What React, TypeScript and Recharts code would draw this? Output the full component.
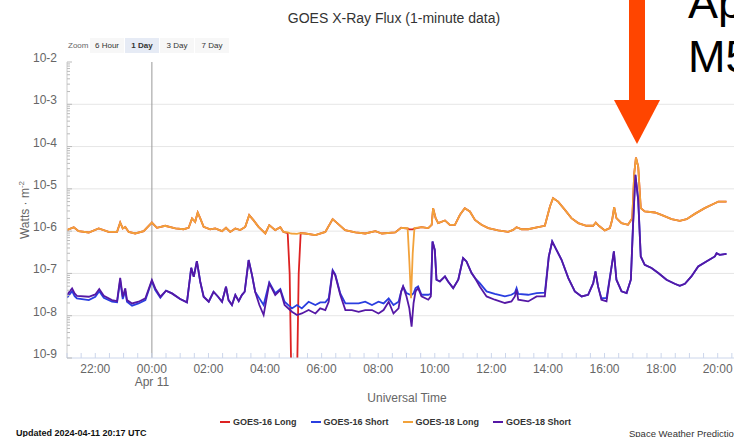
import { LineChart, Line, XAxis, YAxis, ReferenceLine } from "recharts";

// hours relative to 00:00 UTC Apr 11
const longHours = [
  -3.0, -2.76, -2.59, -2.23, -1.88, -1.53, -1.23, -1.12, -1.03, -0.94,
  -0.82, -0.59, -0.29, 0.0, 0.18, 0.47, 0.83, 1.12, 1.3, 1.42,
  1.53, 1.62, 1.71, 1.83, 2.06, 2.24, 2.48, 2.62, 2.77, 2.95,
  3.12, 3.3, 3.44, 3.59, 3.77, 4.01, 4.15, 4.36, 4.54, 4.65,
  4.8, 4.87, 4.93, 5.13, 5.19, 5.26, 5.42, 5.78, 6.13, 6.39,
  6.6, 6.83, 7.19, 7.54, 7.9, 8.13, 8.6, 8.81, 9.04, 9.1,
  9.16, 9.22, 9.28, 9.53, 9.77, 9.89, 9.94, 10.03, 10.12, 10.36,
  10.53, 10.71, 10.89, 11.06, 11.24, 11.42, 11.65, 11.89, 12.24, 12.59,
  12.77, 12.89, 13.07, 13.3, 13.65, 13.89, 14.07, 14.18, 14.36, 14.6,
  14.83, 15.07, 15.36, 15.6, 15.69, 15.8, 16.01, 16.19, 16.27, 16.34,
  16.42, 16.6, 16.83, 16.98, 17.05, 17.11, 17.19, 17.28, 17.42, 17.78,
  18.01, 18.37, 18.66, 18.9, 19.19, 19.54, 19.9, 20.02, 20.31,
];

const goes16Long = [
  1.06e-6, 1.24e-6, 1.0e-6, 9.3e-7, 1.16e-6, 9.6e-7, 9.6e-7, 1.6e-6, 1.16e-6, 1.26e-6,
  9.6e-7, 8.8e-7, 1.0e-6, 1.6e-6, 1.2e-6, 1.34e-6, 1.16e-6, 1.11e-6, 1.2e-6, 2.0e-6,
  1.66e-6, 2.76e-6, 2.0e-6, 1.26e-6, 1.1e-6, 1.16e-6, 1.0e-6, 1.2e-6, 9.6e-7, 1.16e-6,
  1.06e-6, 1.26e-6, 2.39e-6, 1.82e-6, 1.26e-6, 8.8e-7, 1.39e-6, 1.06e-6, 1.24e-6, 9.6e-7,
  9.0e-7, 1.0e-7, 3e-10, 3e-10, 1.0e-7, 9.0e-7, 8.8e-7, 8.05e-7, 9.6e-7, 1.92e-6,
  1.44e-6, 1.06e-6, 9.3e-7, 8.8e-7, 1.0e-6, 8.8e-7, 9.3e-7, 1.2e-6, 1.15e-6, 1.1e-6,
  1.1e-6, 1.1e-6, 1.15e-6, 1.24e-6, 1.18e-6, 1.41e-6, 3.5e-6, 2.03e-6, 1.55e-6, 1.79e-6,
  1.41e-6, 1.41e-6, 2.43e-6, 3.5e-6, 2.92e-6, 1.85e-6, 1.41e-6, 1.18e-6, 1.04e-6, 9.6e-7,
  1.07e-6, 1.24e-6, 1.11e-6, 1.11e-6, 1.24e-6, 1.34e-6, 3.83e-6, 6.0e-6, 5.0e-6, 3.19e-6,
  2.03e-6, 1.55e-6, 1.34e-6, 1.34e-6, 1.6e-6, 1.34e-6, 1.04e-6, 1.18e-6, 1.85e-6, 3.7e-6,
  2.03e-6, 1.55e-6, 1.41e-6, 2.03e-6, 2.34e-5, 5.5e-5, 3.37e-5, 3.5e-6, 2.92e-6, 2.76e-6,
  2.43e-6, 1.92e-6, 1.75e-6, 1.92e-6, 2.56e-6, 3.5e-6, 4.58e-6, 5.0e-6, 5.0e-6,
];

const goes18Long = [
  1.06e-6, 1.24e-6, 1.0e-6, 9.3e-7, 1.16e-6, 9.6e-7, 9.6e-7, 1.6e-6, 1.16e-6, 1.26e-6,
  9.6e-7, 8.8e-7, 1.0e-6, 1.6e-6, 1.2e-6, 1.34e-6, 1.16e-6, 1.11e-6, 1.2e-6, 2.0e-6,
  1.66e-6, 2.76e-6, 2.0e-6, 1.26e-6, 1.1e-6, 1.16e-6, 1.0e-6, 1.2e-6, 9.6e-7, 1.16e-6,
  1.06e-6, 1.26e-6, 2.39e-6, 1.82e-6, 1.26e-6, 8.8e-7, 1.39e-6, 1.06e-6, 1.24e-6, 9.6e-7,
  9.3e-7, 9.0e-7, 8.8e-7, 8.65e-7, 8.8e-7, 9.0e-7, 8.8e-7, 8.05e-7, 9.6e-7, 1.92e-6,
  1.44e-6, 1.06e-6, 9.3e-7, 8.8e-7, 1.0e-6, 8.8e-7, 9.3e-7, 1.2e-6, 1.18e-6, 2.0e-7,
  2.6e-8, 3.0e-7, 1.18e-6, 1.24e-6, 1.18e-6, 1.41e-6, 3.5e-6, 2.03e-6, 1.55e-6, 1.79e-6,
  1.41e-6, 1.41e-6, 2.43e-6, 3.5e-6, 2.92e-6, 1.85e-6, 1.41e-6, 1.18e-6, 1.04e-6, 9.6e-7,
  1.07e-6, 1.24e-6, 1.11e-6, 1.11e-6, 1.24e-6, 1.34e-6, 3.83e-6, 6.0e-6, 5.0e-6, 3.19e-6,
  2.03e-6, 1.55e-6, 1.34e-6, 1.34e-6, 1.6e-6, 1.34e-6, 1.04e-6, 1.18e-6, 1.85e-6, 3.7e-6,
  2.03e-6, 1.55e-6, 1.41e-6, 2.03e-6, 2.34e-5, 5.5e-5, 3.37e-5, 3.5e-6, 2.92e-6, 2.76e-6,
  2.43e-6, 1.92e-6, 1.75e-6, 1.92e-6, 2.56e-6, 3.5e-6, 4.58e-6, 5.0e-6, 5.0e-6,
];

const shortHours = [
  -3.0, -2.82, -2.73, -2.65, -2.23, -2.0, -1.86, -1.7, -1.41, -1.23,
  -1.12, -1.03, -0.94, -0.88, -0.7, -0.47, -0.23, 0.0, 0.12, 0.3,
  0.5, 0.71, 1.0, 1.24, 1.39, 1.48, 1.59, 1.71, 1.83, 2.01,
  2.18, 2.34, 2.48, 2.62, 2.71, 2.83, 2.95, 3.07, 3.18, 3.28,
  3.42, 3.54, 3.65, 3.8, 3.95, 4.15, 4.36, 4.54, 4.69, 4.95,
  5.13, 5.3, 5.54, 5.78, 5.95, 6.13, 6.25, 6.39, 6.48, 6.66,
  6.84, 7.07, 7.31, 7.54, 7.78, 8.01, 8.19, 8.37, 8.54, 8.72,
  8.81, 8.88, 9.0, 9.1, 9.18, 9.25, 9.32, 9.41, 9.53, 9.77,
  9.86, 9.92, 10.0, 10.06, 10.18, 10.36, 10.47, 10.65, 10.83, 11.0,
  11.12, 11.3, 11.42, 11.59, 11.83, 12.12, 12.48, 12.71, 12.83, 12.89,
  12.95, 13.3, 13.6, 13.89, 14.03, 14.15, 14.3, 14.48, 14.72, 14.95,
  15.19, 15.42, 15.6, 15.68, 15.77, 15.89, 16.07, 16.25, 16.33, 16.42,
  16.6, 16.78, 16.93, 17.01, 17.09, 17.19, 17.28, 17.42, 17.66, 17.9,
  18.19, 18.48, 18.66, 18.84, 19.07, 19.31, 19.6, 19.9, 19.96, 20.07,
  20.31,
];

const goes16Short = [
  2.66e-8, 3.8e-8, 2.9e-8, 2.57e-8, 2.34e-8, 2.81e-8, 3.8e-8, 2.66e-8, 2.14e-8, 2.07e-8,
  6.97e-8, 2.48e-8, 3.8e-8, 2.14e-8, 1.73e-8, 1.95e-8, 2.34e-8, 6.6e-8, 4.04e-8, 2.66e-8,
  3.9e-8, 3.37e-8, 2.48e-8, 2.07e-8, 1.36e-7, 8.3e-8, 1.95e-7, 6.35e-8, 2.81e-8, 2.14e-8,
  3.69e-8, 2.81e-8, 2.14e-8, 4.84e-8, 2.34e-8, 1.79e-8, 3.08e-8, 2.22e-8, 3.08e-8, 3.69e-8,
  2.07e-7, 9.1e-8, 3.69e-8, 2.57e-8, 1.79e-8, 6.1e-8, 3.4e-8, 4.3e-8, 2.14e-8, 1.49e-8,
  1.79e-8, 1.49e-8, 2.14e-8, 1.79e-8, 2.07e-8, 2.07e-8, 2.57e-8, 1.2e-7, 9.5e-8, 3.37e-8,
  1.95e-8, 1.95e-8, 1.95e-8, 2.14e-8, 1.79e-8, 2.14e-8, 1.95e-8, 2.57e-8, 1.79e-8, 2.14e-8,
  3.69e-8, 4.93e-8, 3.43e-8, 3.2e-8, 3.1e-8, 3.4e-8, 4.5e-8, 4.93e-8, 3.13e-8, 3.13e-8,
  3.3e-8, 5.7e-7, 3.62e-7, 7.1e-8, 6.46e-8, 8.5e-8, 6.46e-8, 4.5e-8, 7.1e-8, 2.3e-7,
  1.92e-7, 1.02e-7, 7.76e-8, 5.9e-8, 3.76e-8, 3.3e-8, 2.86e-8, 3.13e-8, 3.5e-8, 4.5e-8,
  3.3e-8, 3.13e-8, 3.43e-8, 3.5e-8, 2.52e-7, 5.7e-7, 3.62e-7, 2.1e-7, 7.76e-8, 3.76e-8,
  2.86e-8, 3.13e-8, 5.9e-8, 1.11e-7, 4.93e-8, 2.6e-8, 2.6e-8, 1.46e-7, 3.31e-7, 7.1e-8,
  3.76e-8, 3.43e-8, 7.1e-8, 1.55e-6, 2.14e-5, 5.5e-6, 2.52e-7, 1.6e-7, 1.34e-7, 1.02e-7,
  7.1e-8, 5.7e-8, 5.1e-8, 5.7e-8, 8.5e-8, 1.46e-7, 1.92e-7, 2.52e-7, 3.0e-7, 2.76e-7,
  2.9e-7,
];

const goes18Short = [
  3.08e-8, 4.43e-8, 3.37e-8, 2.96e-8, 2.81e-8, 3.19e-8, 4.27e-8, 2.96e-8, 2.34e-8, 2.22e-8,
  7.9e-8, 2.81e-8, 4.43e-8, 2.34e-8, 1.95e-8, 2.14e-8, 2.57e-8, 6.97e-8, 4.43e-8, 2.81e-8,
  3.9e-8, 3.37e-8, 2.48e-8, 2.07e-8, 1.36e-7, 8.3e-8, 1.95e-7, 6.35e-8, 2.81e-8, 2.14e-8,
  3.69e-8, 2.81e-8, 2.14e-8, 4.84e-8, 2.34e-8, 1.79e-8, 3.08e-8, 2.22e-8, 3.08e-8, 3.69e-8,
  2.07e-7, 9.1e-8, 3.69e-8, 1.79e-8, 1.04e-8, 5.8e-8, 3.08e-8, 4.04e-8, 1.79e-8, 1.24e-8,
  1.04e-8, 1.13e-8, 1.36e-8, 1.13e-8, 1.49e-8, 1.36e-8, 2.14e-8, 1.14e-7, 9.1e-8, 3.08e-8,
  1.36e-8, 1.36e-8, 1.24e-8, 1.36e-8, 1.36e-8, 1.13e-8, 1.36e-8, 2.14e-8, 1.13e-8, 1.49e-8,
  3.69e-8, 4.93e-8, 2.86e-8, 1.5e-8, 5.5e-9, 2.0e-8, 3.76e-8, 4.5e-8, 2.86e-8, 2.39e-8,
  2.86e-8, 5.7e-7, 3.62e-7, 7.1e-8, 6.46e-8, 8.5e-8, 6.46e-8, 4.5e-8, 7.1e-8, 2.3e-7,
  1.92e-7, 1.02e-7, 7.76e-8, 4.93e-8, 2.86e-8, 2.39e-8, 2.0e-8, 2.18e-8, 2.86e-8, 4.1e-8,
  2.39e-8, 2.18e-8, 2.86e-8, 2.86e-8, 2.52e-7, 5.7e-7, 3.62e-7, 2.1e-7, 7.76e-8, 3.76e-8,
  2.86e-8, 3.13e-8, 5.9e-8, 1.11e-7, 4.93e-8, 2.39e-8, 2.18e-8, 1.46e-7, 3.31e-7, 7.1e-8,
  3.76e-8, 3.43e-8, 7.1e-8, 1.55e-6, 2.14e-5, 5.5e-6, 2.52e-7, 1.6e-7, 1.34e-7, 1.02e-7,
  7.1e-8, 5.7e-8, 5.1e-8, 5.7e-8, 8.5e-8, 1.46e-7, 1.92e-7, 2.52e-7, 3.0e-7, 2.76e-7,
  2.9e-7,
];

const seriesNames = ["GOES-16 Long", "GOES-16 Short", "GOES-18 Long", "GOES-18 Short"];
const seriesColors = ["#dd2222", "#2a3ee0", "#f2a23a", "#5518a5"];

const decades = [1e-9, 1e-8, 1e-7, 1e-6, 1e-5, 1e-4, 1e-3, 1e-2];
const decadeLabels = ["10-9", "10-8", "10-7", "10-6", "10-5", "10-4", "10-3", "10-2"];

const labelHours = [-2, 0, 2, 4, 6, 8, 10, 12, 14, 16, 18, 20];
const hourLabels = ["22:00", "00:00", "02:00", "04:00", "06:00", "08:00", "10:00", "12:00", "14:00", "16:00", "18:00", "20:00"];

const zoomButtons = ["6 Hour", "1 Day", "3 Day", "7 Day"];

const longData = longHours.map((t, i) => ({ t, g16: goes16Long[i], g18: goes18Long[i] }));
const shortData = shortHours.map((t, i) => ({ t, g16: goes16Short[i], g18: goes18Short[i] }));

// half hour tick marks along the time axis
const xTicks = Array.from({ length: 49 }, (_, i) => -3 + i * 0.5);
// log minor ticks
const yTicks = decades
  .slice(0, -1)
  .flatMap((d) => [1, 2, 3, 4, 5, 6, 7, 8, 9].map((k) => (k === 1 ? d : k * d)))
  .concat([1e-2]);

const FONT = '"Liberation Sans", Arial, Helvetica, sans-serif';

function BottomTick(props: any) {
  const { x, y, payload } = props;
  const idx = labelHours.indexOf(payload.value);
  return (
    <g>
      <line x1={x} x2={x} y1={y} y2={y - 5} stroke="#ccd6eb" />
      {idx >= 0 && (
        <text x={x} y={y + 15} textAnchor="middle" fill="#666" fontSize={12}>
          {hourLabels[idx]}
        </text>
      )}
      {payload.value === 0 && (
        <text x={x} y={y + 28} textAnchor="middle" fill="#666" fontSize={12}>
          Apr 11
        </text>
      )}
    </g>
  );
}

function TopTick(props: any) {
  const { x, y } = props;
  return <line x1={x} x2={x} y1={y} y2={y + 4} stroke="#ccd6eb" />;
}

function LeftTick(props: any) {
  const { x, y, payload } = props;
  const idx = decades.indexOf(payload.value);
  return (
    <g>
      <line x1={x} x2={x + (idx >= 0 ? 5 : 3)} y1={y} y2={y} stroke="#bbb" />
      {idx >= 0 && (
        <text x={x - 10} y={y} textAnchor="end" fill="#666" fontSize={12}>
          {decadeLabels[idx]}
        </text>
      )}
    </g>
  );
}

export default function App() {
  return (
    <div
      style={{
        position: "fixed",
        left: 0,
        top: 0,
        width: 734,
        height: 437,
        overflow: "hidden",
        background: "#fff",
        fontFamily: FONT,
      }}
    >
      <div style={{ position: "absolute", left: 0, top: 0 }}>
        <LineChart width={780} height={437} margin={{ top: 62, right: 34, bottom: 49, left: 0 }}>
          <XAxis
            xAxisId={0}
            type="number"
            dataKey="t"
            domain={[-3, 21]}
            ticks={xTicks}
            interval={0}
            tickSize={0}
            tickMargin={0}
            tickLine={false}
            axisLine={{ stroke: "#ccd6eb" }}
            tick={BottomTick}
            height={30}
            allowDataOverflow
          />
          <XAxis
            xAxisId="top"
            orientation="top"
            type="number"
            dataKey="t"
            domain={[-3, 21]}
            ticks={xTicks}
            interval={0}
            tickSize={0}
            tickMargin={0}
            tickLine={false}
            axisLine={{ stroke: "#ccd6eb" }}
            tick={TopTick}
            height={0}
          />
          <YAxis
            type="number"
            scale="log"
            domain={[1e-9, 1e-2]}
            ticks={yTicks}
            interval={0}
            tickSize={0}
            tickMargin={0}
            tickLine={false}
            axisLine={{ stroke: "#ccc" }}
            tick={LeftTick}
            width={67}
            allowDataOverflow
          />
          {decades.slice(1, -1).map((d) => (
            <ReferenceLine key={d} y={d} stroke="#e6e6e6" />
          ))}
          <ReferenceLine x={0} stroke="#999" />
          <Line data={longData} dataKey="g16" name={seriesNames[0]} stroke={seriesColors[0]} strokeWidth={1.8} dot={false} isAnimationActive={false} />
          <Line data={shortData} dataKey="g16" name={seriesNames[1]} stroke={seriesColors[1]} strokeWidth={1.8} dot={false} isAnimationActive={false} />
          <Line data={longData} dataKey="g18" name={seriesNames[2]} stroke={seriesColors[2]} strokeWidth={1.8} dot={false} isAnimationActive={false} />
          <Line data={shortData} dataKey="g18" name={seriesNames[3]} stroke={seriesColors[3]} strokeWidth={1.8} dot={false} isAnimationActive={false} />
        </LineChart>
      </div>

      {/* title */}
      <div style={{ position: "absolute", left: 394, top: 10, transform: "translateX(-50%)", whiteSpace: "nowrap", fontSize: 14, lineHeight: "16px", color: "#333" }}>
        GOES X-Ray Flux (1-minute data)
      </div>

      {/* range selector */}
      <div style={{ position: "absolute", left: 68, top: 38, height: 15, lineHeight: "15px", fontSize: 8, color: "#666" }}>Zoom</div>
      {zoomButtons.map((b, i) => (
        <div
          key={b}
          style={{
            position: "absolute",
            left: 90 + i * 35,
            top: 38,
            width: 34,
            height: 15,
            lineHeight: "15px",
            fontSize: 8,
            textAlign: "center",
            color: "#333",
            fontWeight: i === 1 ? "bold" : "normal",
            background: i === 1 ? "#e6ebf5" : "#f7f7f7",
          }}
        >
          {b}
        </div>
      ))}

      {/* y title */}
      <div style={{ position: "absolute", left: 24, top: 210, transform: "translate(-50%, -50%) rotate(-90deg)", whiteSpace: "nowrap", fontSize: 12, color: "#666" }}>
        Watts · m<sup style={{ fontSize: 8 }}>-2</sup>
      </div>

      {/* x title */}
      <div style={{ position: "absolute", left: 407, top: 390, transform: "translateX(-50%)", whiteSpace: "nowrap", fontSize: 12, lineHeight: "16px", color: "#666" }}>
        Universal Time
      </div>

      {/* legend */}
      <div style={{ position: "absolute", left: 220, top: 416, display: "flex", alignItems: "center", height: 12 }}>
        {seriesNames.map((n, i) => (
          <div key={n} style={{ display: "flex", alignItems: "center", marginRight: 14 }}>
            <span style={{ display: "inline-block", width: 10, height: 2, background: seriesColors[i], marginRight: 3 }} />
            <span style={{ fontSize: 9, fontWeight: "bold", color: "#333", whiteSpace: "nowrap" }}>{n}</span>
          </div>
        ))}
      </div>

      {/* footer */}
      <div style={{ position: "absolute", left: 16, top: 428, fontSize: 9, lineHeight: "11px", fontWeight: "bold", color: "#111", whiteSpace: "nowrap" }}>
        Updated 2024-04-11 20:17 UTC
      </div>
      <div style={{ position: "absolute", left: 629, top: 428, fontSize: 9.5, lineHeight: "11px", color: "#333", whiteSpace: "nowrap" }}>
        Space Weather Prediction Center
      </div>

      {/* annotation */}
      <svg style={{ position: "absolute", left: 0, top: 0 }} width={734} height={160}>
        <rect x={629} y={0} width={16} height={101} fill="#ff4500" />
        <polygon points="614,100 660,100 637,144" fill="#ff4500" />
      </svg>
      <div style={{ position: "absolute", left: 688, top: -24, fontSize: 45, lineHeight: "54px", color: "#000", whiteSpace: "nowrap" }}>
        Apr
        <br />
        M5
      </div>
    </div>
  );
}
